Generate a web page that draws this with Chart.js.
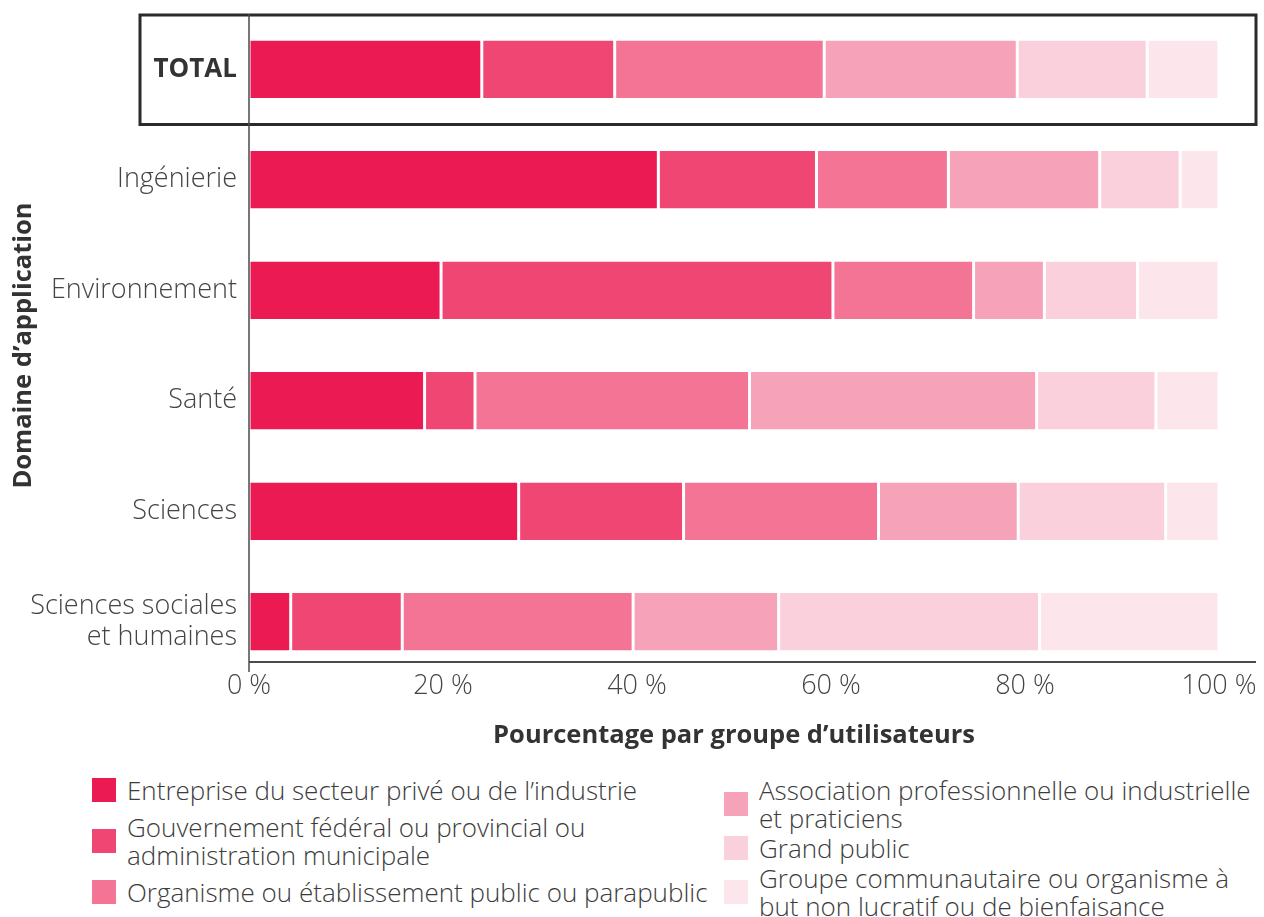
<!DOCTYPE html>
<html>
<head>
<meta charset="utf-8">
<script src="https://cdn.jsdelivr.net/npm/chart.js@4"></script>
<style>
  body { margin: 0; background: #fff; font-family: "Open Sans", sans-serif; font-weight: 300; color: #3c3c3c; }
  #wrap { position: relative; width: 1264px; height: 760px; }
  #legend { position: relative; height: 157px; }
  .col { position: absolute; top: 16px; display: flex; flex-direction: column; }
  .item { display: flex; align-items: center; font-size: 26px; line-height: 28px; white-space: nowrap; }
  .sw { width: 24px; height: 24px; flex: none; margin-right: 11px; }
</style>
</head>
<body>
<div id="wrap"><canvas id="userChart"></canvas></div>
<div id="legend"></div>

<script>
// categories (application domains)
const categories = ['TOTAL', 'Ingénierie', 'Environnement', 'Santé', 'Sciences', ['Sciences sociales', 'et humaines']];

// legend labels, split as in the picture
const seriesNames = [
    ['Entreprise du secteur privé ou de l’industrie'],
    ['Gouvernement fédéral ou provincial ou', 'administration municipale'],
    ['Organisme ou établissement public ou parapublic'],
    ['Association professionnelle ou industrielle', 'et praticiens'],
    ['Grand public'],
    ['Groupe communautaire ou organisme à', 'but non lucratif ou de bienfaisance']
];
const seriesColors = ['#ec1a52', '#f04673', '#f37495', '#f6a2b8', '#f9d0db', '#fce6ec'];

// percentages per series, in category order
const prive        = [24.0, 42.2, 19.8, 18.1, 27.8,  4.3];
const gouvernement = [13.7, 16.3, 40.4,  5.2, 17.0, 11.5];
const parapublic   = [21.6, 13.6, 14.5, 28.3, 20.1, 23.8];
const association  = [19.9, 15.6,  7.3, 29.6, 14.4, 15.0];
const grandPublic  = [13.4,  8.3,  9.6, 12.3, 15.2, 26.9];
const communautaire = [7.4,  4.0,  8.4,  6.5,  5.5, 18.5];
const seriesValues = [prive, gouvernement, parapublic, association, grandPublic, communautaire];

const FONT = '"Open Sans", sans-serif';
const TEXT = '#444';

// box around TOTAL row, axis lines and x tick labels
const framePlugin = {
    id: 'frame',
    afterDatasetsDraw(chart) {
        const ctx = chart.ctx;
        const area = chart.chartArea;
        const x = chart.scales.x, y = chart.scales.y;
        const band = (area.bottom - area.top) / categories.length;
        const x0 = x.getPixelForValue(0);
        const axisY = area.bottom - 15;
        const rightEnd = x.right + 37;
        ctx.save();
        ctx.strokeStyle = '#2b2b2b';
        ctx.lineWidth = 3;
        const cy = y.getPixelForValue(0);
        ctx.strokeRect(140, cy - band / 2 + 1, rightEnd - 140, band - 1);
        ctx.strokeStyle = '#4a4a4a';
        ctx.lineWidth = 1.5;
        ctx.beginPath();
        ctx.moveTo(x0, area.top);
        ctx.lineTo(x0, axisY + 10);
        ctx.stroke();
        ctx.lineWidth = 2;
        ctx.beginPath();
        ctx.moveTo(x0, axisY);
        ctx.lineTo(rightEnd, axisY);
        ctx.stroke();
        // tick labels just under the axis line
        ctx.fillStyle = TEXT;
        ctx.font = '300 27px ' + FONT;
        ctx.textAlign = 'center';
        ctx.textBaseline = 'middle';
        x.ticks.forEach(t => {
            ctx.fillText(t.value + ' %', x.getPixelForValue(t.value), axisY + 24);
        });
        ctx.restore();
    }
};

const ctx = document.getElementById('userChart').getContext('2d');
new Chart(ctx, {
    type: 'bar',
    data: {
        labels: categories,
        datasets: seriesValues.map((vals, i) => ({
            label: seriesNames[i].join(' '),
            data: vals,
            backgroundColor: seriesColors[i],
            borderColor: '#fff',
            borderWidth: {left: 1.5, right: 1.5, top: 0, bottom: 0},
            borderSkipped: false,
            barPercentage: 0.52,
            categoryPercentage: 1
        }))
    },
    options: {
        indexAxis: 'y',
        responsive: true,
        maintainAspectRatio: false,
        animation: false,
        layout: { padding: { top: 14, right: 45, left: 0, bottom: 0 } },
        plugins: {
            legend: { display: false },
            tooltip: { enabled: false }
        },
        scales: {
            x: {
                stacked: true,
                min: 0,
                max: 100,
                grid: { display: false, drawTicks: false },
                border: { display: false },
                ticks: {
                    stepSize: 20,
                    color: 'rgba(0,0,0,0)',
                    font: { family: FONT, size: 24, weight: '300' },
                    callback: v => v + ' %'
                },
                title: {
                    display: true,
                    text: 'Pourcentage par groupe d’utilisateurs',
                    color: '#333',
                    font: { family: FONT, size: 25.5, weight: 'bold' },
                    padding: { top: 0, bottom: 9 }
                },
                afterFit(scale) {
                    scale.height = 83;
                    scale.paddingLeft = 0;
                    scale.paddingRight = 0;
                }
            },
            y: {
                stacked: true,
                grid: { display: false, drawTicks: false },
                border: { display: false },
                ticks: {
                    padding: 12,
                    color: c => c.index === 0 ? '#333' : TEXT,
                    font: c => c.index === 0
                        ? { family: FONT, size: 26, weight: 'bold', lineHeight: 1.15 }
                        : { family: FONT, size: 27, weight: '300', lineHeight: 1.15 }
                },
                title: {
                    display: true,
                    text: 'Domaine d’application',
                    color: '#333',
                    font: { family: FONT, size: 25.5, weight: 'bold' },
                    padding: { top: 8, bottom: 0 }
                },
                afterFit(scale) {
                    scale.width = 249;
                    scale.paddingTop = 0;
                    scale.paddingBottom = 0;
                }
            }
        }
    },
    plugins: [framePlugin]
});

// legend in two columns
const legend = document.getElementById('legend');
const cols = [
    { left: 92, gap: 9, items: [0, 1, 2] },
    { left: 724, gap: 2, items: [3, 4, 5] }
];
cols.forEach(c => {
    const col = document.createElement('div');
    col.className = 'col';
    col.style.left = c.left + 'px';
    col.style.gap = c.gap + 'px';
    c.items.forEach(i => {
        const it = document.createElement('div');
        it.className = 'item';
        it.innerHTML = '<span class="sw" style="background:' + seriesColors[i] + '"></span><span>' +
            seriesNames[i].join('<br>') + '</span>';
        col.appendChild(it);
    });
    legend.appendChild(col);
});
</script>
</body>
</html>
